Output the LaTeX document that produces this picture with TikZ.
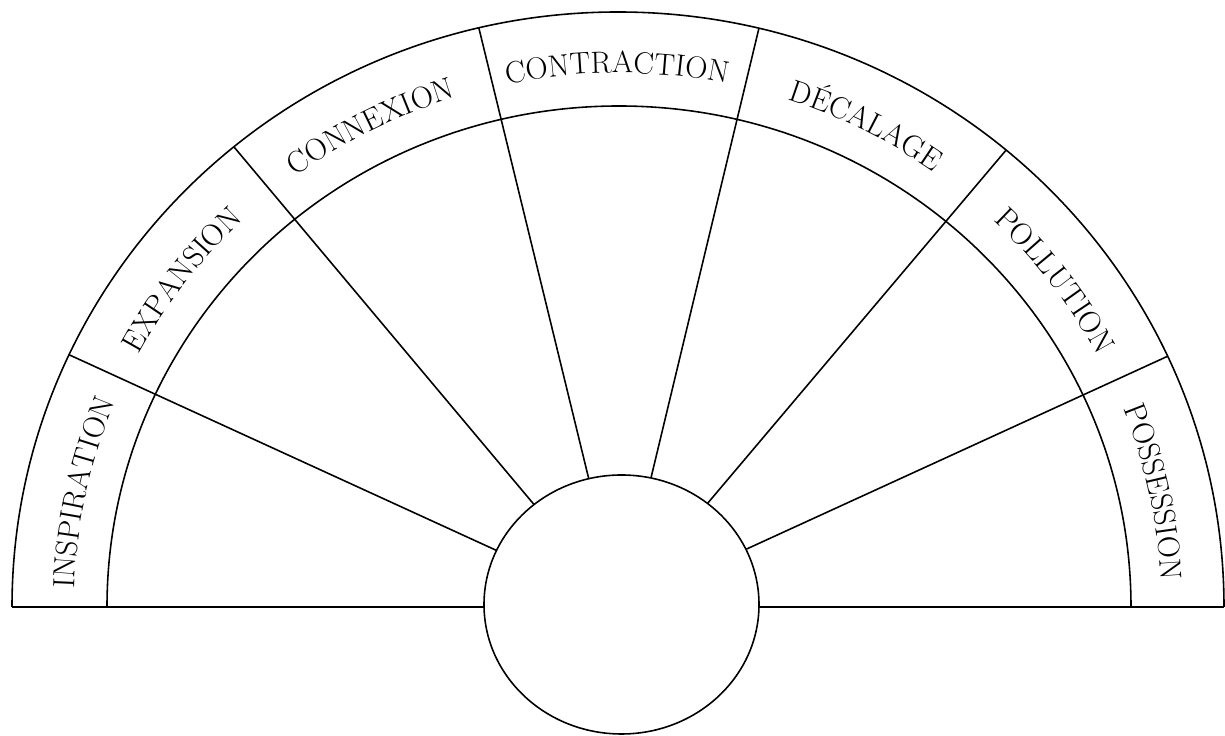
\documentclass[tikz,border=0pt]{standalone}
\usetikzlibrary{decorations.text}
\newcommand\labfmt{\fontsize{17.5}{21}\selectfont}
\begin{document}
\begin{tikzpicture}[x=0.02cm,y=0.02cm,line width=0.9pt,
  lab/.style={decorate,decoration={text along path,text align=center,text={|\labfmt|#1}}}]
\useasboundingbox (0,0) rectangle (1225,736);
\coordinate (O) at (618,129);   % centre of the arcs
\coordinate (L) at (620,129);   % meeting point of the dividers
\coordinate (H) at (621.5,131.5); % centre of the hub
\coordinate (oL) at (12,129);
\coordinate (oR) at (1224,129);
\coordinate (iL) at (107,129);
% dividers
\begin{scope}
  \clip (O) ellipse [x radius=606, y radius=595];
  \foreach \a in {24.6,49.8,76.5,103.7,130,155.4}
    \draw (L) -- ++(\a:700);
\end{scope}
% baseline and arcs
\draw (oL) -- (oR);
\draw (oL) arc [start angle=180, end angle=0, x radius=606, y radius=595];
\draw (iL) arc [start angle=180, end angle=0, x radius=512, y radius=501];
% hub
\draw[fill=white] (H) ellipse [x radius=137.5, y radius=129.5];
% labels
\path[lab=INSPIRATION] (O) ++(187.7:544 and 534) arc [start angle=187.7, end angle=147.7, x radius=544, y radius=534];
\path[lab=EXPANSION] (O) ++(162.7:544 and 534) arc [start angle=162.7, end angle=122.7, x radius=544, y radius=534];
\path[lab=CONNEXION] (O) ++(136.85:544 and 534) arc [start angle=136.85, end angle=96.85, x radius=544, y radius=534];
\path[lab=CONTRACTION] (O) ++(110.1:544 and 534) arc [start angle=110.1, end angle=70.1, x radius=544, y radius=534];
\path[lab=DÉCALAGE] (O) ++(83.15:544 and 534) arc [start angle=83.15, end angle=43.15, x radius=544, y radius=534];
\path[lab=POLLUTION] (O) ++(57.2:544 and 534) arc [start angle=57.2, end angle=17.2, x radius=544, y radius=534];
\path[lab=POSSESSION] (O) ++(32.3:544 and 534) arc [start angle=32.3, end angle=-7.7, x radius=544, y radius=534];
\end{tikzpicture}
\end{document}
